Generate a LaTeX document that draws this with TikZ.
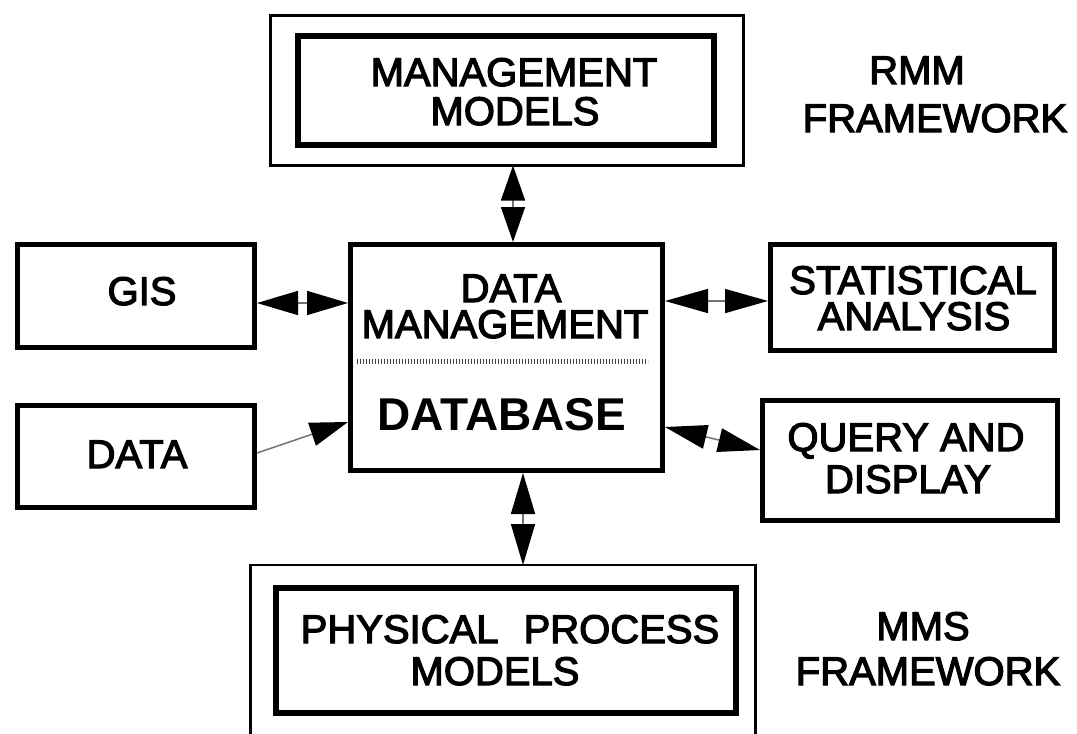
\documentclass[tikz,border=0pt]{standalone}
\usepackage{fontspec}
\setmainfont{Liberation Sans}
\newfontfamily\lbl[FakeBold=3]{Liberation Sans}
\usetikzlibrary{arrows.meta}

\begin{document}
\begin{tikzpicture}[x=1pt,y=-1pt,
  frame/.style={draw=black, line width=2.7pt, inner sep=0pt, outer sep=0pt},
  thickbox/.style={draw=black, line width=5.5pt, inner sep=0pt},
  box/.style={draw=black, line width=5pt, inner sep=0pt},
  txt/.style={anchor=base, inner sep=0pt, font=\lbl\fontsize{40}{40}\selectfont},
  bigtxt/.style={anchor=base, inner sep=0pt, font=\bfseries\fontsize{46}{46}\selectfont},
  link/.style={draw=black!55, line width=1.5pt},
  bi/.style={link, {Triangle[length=#1,width=24pt,color=black]}-{Triangle[length=#1,width=24pt,color=black]}},
  uni/.style={link, -{Triangle[length=38pt,width=24pt,color=black]}}
]
\useasboundingbox[fill=white] (0,0) rectangle (1077,734);

% upper frame: management models
\node[frame, minimum width=473pt, minimum height=150pt] (topframe) at (507,90.5) {};
\node[thickbox, minimum width=416pt, minimum height=109pt] (mm) at (506,90.5) {};
\node[txt] (mm1) at (514,86) {MANAGEMENT};
\node[txt] (mm2) at (515,125) {MODELS};
\node[txt] (rmm1) at (917,84) {RMM};
\node[txt] (rmm2) at (935,132) {FRAMEWORK};

% central data management / database block
\node[box, minimum width=312pt, minimum height=226pt] (dm) at (506.5,357.5) {};
\node[txt] (dm1) at (511,302) {DATA};
\node[txt] (dm2) at (505,338) {MANAGEMENT};
\coordinate (sepL) at (357,361);
\coordinate (sepR) at (648,361);
\draw[black!75, line width=5pt, dash pattern=on 1.3pt off 1.7pt] (sepL) -- (sepR);
\node[bigtxt] (db) at (502,430) {DATABASE};

% side boxes
\node[box, minimum width=237pt, minimum height=103pt] (gis) at (136,296) {};
\node[txt] (gist) at (142,305) {GIS};
\node[box, minimum width=237pt, minimum height=102pt] (data) at (136,456.5) {};
\node[txt] (datat) at (137,468) {DATA};
\node[box, minimum width=284pt, minimum height=106pt] (stat) at (912.5,297.5) {};
\node[txt] (stat1) at (913,294) {STATISTICAL};
\node[txt] (stat2) at (914,330) {ANALYSIS};
\node[box, minimum width=295pt, minimum height=120pt] (query) at (910,460.5) {};
\node[txt] (q1) at (906,451) {QUERY AND};
\node[txt] (q2) at (908,493) {DISPLAY};

% lower frame: physical process models
\node[frame, minimum width=505pt, minimum height=195pt] (botframe) at (503,662.5) {};
\node[thickbox, minimum width=460pt, minimum height=125pt] (pp) at (506,650.5) {};
\node[txt] (pp1) at (510,643) {PHYSICAL\hspace{14pt} PROCESS};
\node[txt] (pp2) at (495,685) {MODELS};
\node[txt] (mms1) at (923,640) {MMS};
\node[txt] (mms2) at (928,685) {FRAMEWORK};

% connectors
\draw[bi=35pt] (topframe.south -| 513,0) -- (dm.north -| 513,0);
\draw[bi=41pt] (dm.south -| 523,0) -- (botframe.north -| 523,0);
\draw[bi=41pt] (gis.east |- 0,303) -- (dm.west |- 0,303);
\draw[bi=43pt] (dm.east |- 0,301) -- (stat.west |- 0,301);
\draw[bi=42pt] (dm.east |- 0,427) -- (query.west |- 0,450);
\draw[uni] (data.east |- 0,453) -- (dm.west |- 0,422);
\end{tikzpicture}
\end{document}
